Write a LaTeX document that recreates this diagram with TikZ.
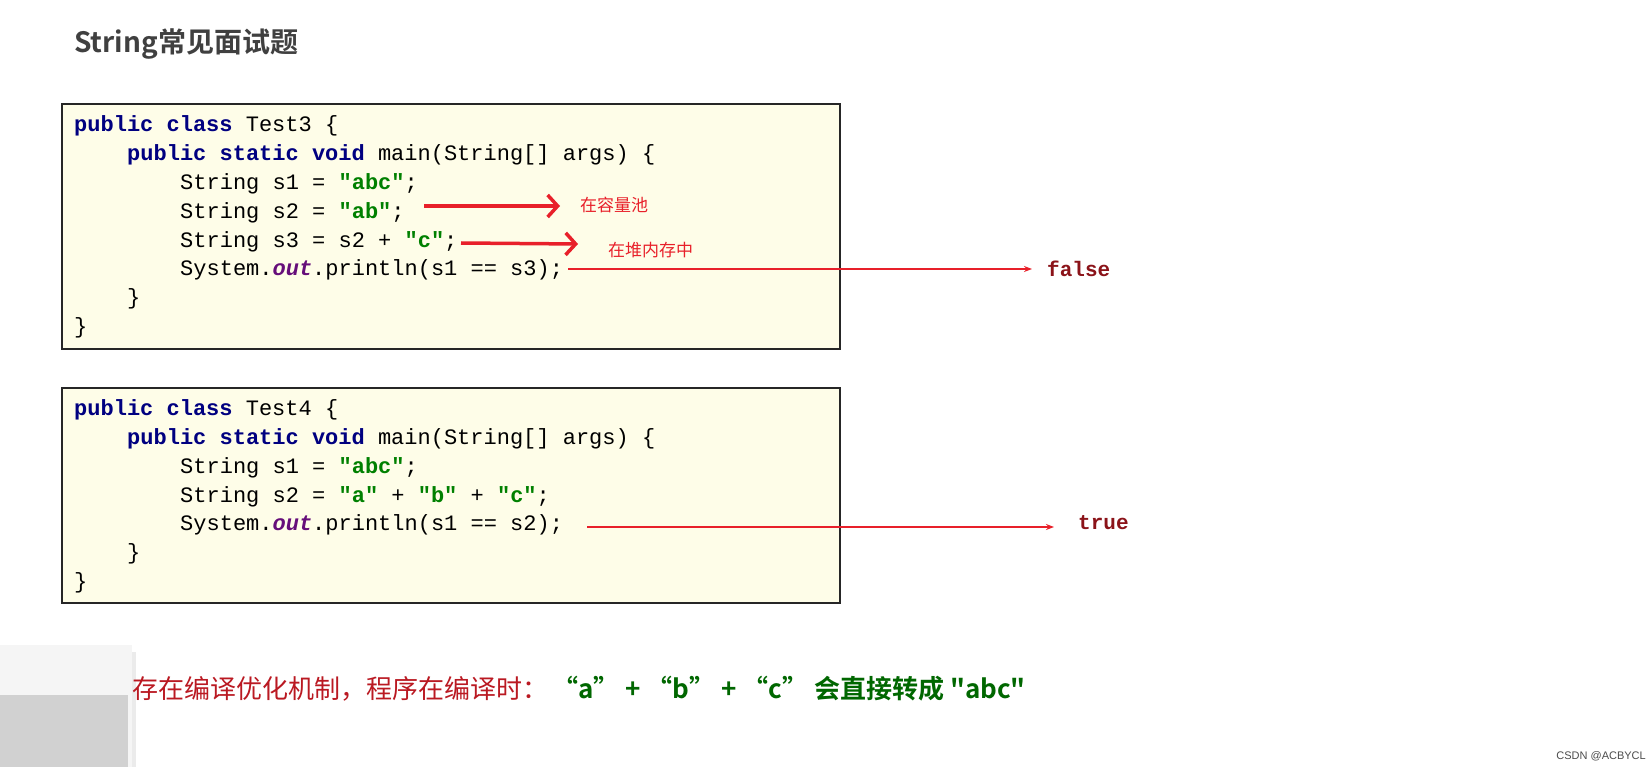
\documentclass[tikz,border=0pt]{standalone}
\usepackage{fontspec}
\setmonofont{Liberation Mono}
\newfontfamily\cjk{Noto Sans CJK SC}
\newfontfamily\cjkb{Noto Sans CJK SC Bold}
\usetikzlibrary{arrows.meta}
\definecolor{kw}{HTML}{000080}
\definecolor{st}{HTML}{008000}
\definecolor{ou}{HTML}{660E7A}
\definecolor{ar}{HTML}{E8202A}
\definecolor{codebg}{HTML}{FEFDE8}
\newcommand{\kwd}[1]{\textbf{\color{kw}#1}}
\newcommand{\strl}[1]{\textbf{\color{st}#1}}
\newcommand{\outf}[1]{\textit{\textbf{\color{ou}#1}}}
\begin{document}
\begin{tikzpicture}[x=1pt,y=-1pt,
  codebox/.style={draw=black!85,line width=1.6pt,fill=codebg},
  code/.style={anchor=west,inner sep=0pt,font=\ttfamily\fontsize{22}{22}\selectfont},
  note/.style={anchor=west,inner sep=0pt,text=ar,font=\cjk\fontsize{17}{17}\selectfont},
  bigarrow/.style={ar,line width=3.5pt,-{Straight Barb[length=10pt,width=22pt,line width=3.5pt]}},
  thinarrow/.style={ar,line width=1.5pt,-{Stealth[length=8pt,width=6pt]}},
  result/.style={anchor=west,inner sep=0pt,text=ar!60!black,font=\ttfamily\bfseries\fontsize{21}{21}\selectfont}]
\useasboundingbox (0,0) rectangle (1652,767);
\fill[white] (0,0) rectangle (1652,767);
\node[anchor=west,inner sep=0pt,text=black!75,font=\cjkb\fontsize{28}{28}\selectfont] (title) at (74,44) {String常见面试题};
% box 1
\draw[codebox] (62,104) rectangle (840,349);
\node[code] (a1) at (74,126) {\kwd{public} \kwd{class} Test3 \{};
\node[code] (a2) at (127,155) {\kwd{public} \kwd{static} \kwd{void} main(String[] args) \{};
\node[code] (a3) at (180,184) {String s1 = \strl{"abc"};};
\node[code] (a4) at (180,213) {String s2 = \strl{"ab"};};
\node[code] (a5) at (180,242) {String s3 = s2 + \strl{"c"};};
\node[code] (a6) at (180,270) {System.\outf{out}.println(s1 == s3);};
\node[code] (a7) at (127,299) {\}};
\node[code] (a8) at (74,328) {\}};
% box 2
\draw[codebox] (62,388) rectangle (840,603);
\node[code] (b1) at (74,410) {\kwd{public} \kwd{class} Test4 \{};
\node[code] (b2) at (127,439) {\kwd{public} \kwd{static} \kwd{void} main(String[] args) \{};
\node[code] (b3) at (180,468) {String s1 = \strl{"abc"};};
\node[code] (b4) at (180,497) {String s2 = \strl{"a"} + \strl{"b"} + \strl{"c"};};
\node[code] (b5) at (180,525) {System.\outf{out}.println(s1 == s2);};
\node[code] (b6) at (127,554) {\}};
\node[code] (b7) at (74,583) {\}};
% annotations
\node[note] (n1) at (580,205) {在容量池};
\node[note] (n2) at (608,250) {在堆内存中};
\coordinate (p1) at (424,206);
\coordinate (e1) at (560,206);
\coordinate (p2) at (461,243);
\coordinate (e2) at (578,244);
\draw[bigarrow] (p1) -- (e1);
\draw[bigarrow] (p2) -- (e2);
\node[result] (f) at (1047,269) {false};
\node[result] (t) at (1078,523) {true};
\coordinate (q1) at (568,269);
\coordinate (r1) at (1032,269);
\coordinate (q2) at (587,527);
\coordinate (r2) at (1054,527);
\draw[thinarrow] (q1) -- (r1);
\draw[thinarrow] (q2) -- (r2);
% window artifact
\fill[black!8] (-5,652) rectangle (136,772);
\fill[black!4] (0,645) rectangle (132,767);
\fill[black!18] (0,695) rectangle (128,767);
\node[anchor=west,inner sep=0pt,font=\cjk\fontsize{26}{26}\selectfont] (bot) at (132,689)
  {\textcolor{ar!80!black}{存在编译优化机制，程序在编译时：}\hspace{4pt}\textcolor{st!80!black}{\cjkb “a”\ +\ “b”\ +\ “c”\ 会直接转成\ "abc"}};
\node[anchor=south east,inner sep=2pt,text=black!70,font=\fontspec{Liberation Sans}\fontsize{11}{11}\selectfont] (wm) at (1648,763) {CSDN @ACBYCL};
\end{tikzpicture}
\end{document}
